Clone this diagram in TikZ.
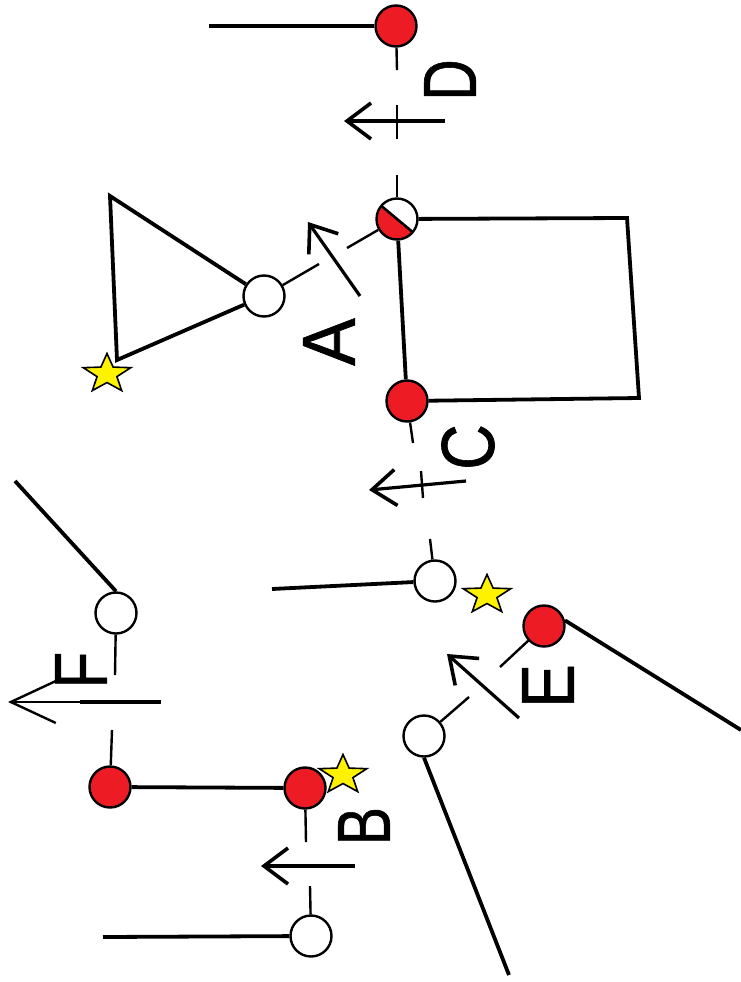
\documentclass[tikz,border=0pt]{standalone}
\usepackage{fontspec}
\setmainfont{Liberation Sans}
\newfontfamily\ltrfont[FakeBold=0.9]{Liberation Sans}
\usetikzlibrary{shapes.geometric,arrows.meta}
\definecolor{pinred}{RGB}{237,28,36}
\definecolor{staryellow}{RGB}{255,242,0}
\newcommand{\ltr}[2]{\scalebox{#1}[1]{\fontsize{75}{75}\ltrfont #2}}
\tikzset{
  pinw/.style={circle,draw=black,line width=2.4pt,fill=white,minimum size=41pt,inner sep=0pt},
  pinr/.style={pinw,fill=pinred},
  starm/.style={star,star points=5,star point ratio=2.4,draw=black,line width=1.6pt,fill=staryellow,minimum size=50pt,inner sep=0pt,transform shape},
  thick line/.style={line width=3.8pt},
  thin line/.style={line width=2.4pt},
  arrowline/.style={line width=3.2pt,-{Straight Barb[length=24pt,width=36pt,line width=3.6pt]}},
  letter/.style={rotate=90,inner sep=0pt,anchor=center}
}
\begin{document}
\begin{tikzpicture}[x=1pt,y=-1pt]
\useasboundingbox (0,0) rectangle (741,982);
% pins
\node[pinr] (d) at (396,26) {};
\node[pinw,path picture={
  \fill[pinred] (-30,-25) -- (30,25) -- (5,55) -- (-55,5) -- cycle;
  \draw[line width=2.6pt] (-30,-25) -- (30,25);
}] (h) at (397,219) {};
\node[pinr] (c) at (407,401) {};
\node[pinw] (t) at (264,296) {};
\node[pinw] (m) at (435,581) {};
\node[pinr] (e) at (544,626) {};
\node[pinw] (w) at (424,736) {};
\node[pinw] (f) at (116,613) {};
\node[pinr] (r) at (110,787) {};
\node[pinr] (b) at (305,788) {};
\node[pinw] (g) at (311,936) {};
% stars
\begin{scope}[shift={(107,374)},yscale=0.82]\node[starm] (s1) at (0,0) {};\end{scope}
\begin{scope}[shift={(487,595)},yscale=0.82]\node[starm] (s2) at (0,0) {};\end{scope}
\begin{scope}[shift={(343,775)},yscale=0.82]\node[starm] (s3) at (0,0) {};\end{scope}
% free ends
\coordinate (d1) at (209,26);
\coordinate (d2) at (397,70);
\coordinate (d3) at (397,175);
\coordinate (q1) at (627,218);
\coordinate (q2) at (639,398);
\coordinate (t1) at (110,196);
\coordinate (t2) at (117,360);
\coordinate (h1) at (347,248);
\coordinate (t3) at (319,264);
\coordinate (c1) at (413,443);
\coordinate (m1) at (430,539);
\coordinate (m2) at (272,589);
\coordinate (e1) at (741,730);
\coordinate (e2) at (500,667);
\coordinate (w1) at (469,697);
\coordinate (w2) at (509,975);
\coordinate (f1) at (15,481);
\coordinate (f2) at (115,675);
\coordinate (r1) at (112,730);
\coordinate (b1) at (306,842);
\coordinate (g1) at (310,886);
\coordinate (g2) at (103,937);
% connectors
\draw[thick line] (d) -- (d1);
\draw[thin line] (d) -- (d2);
\draw[thin line] (h) -- (d3);
\draw[thick line,line join=miter] (h) -- (q1) -- (q2) -- (c);
\draw[thick line] (h) -- (c);
\draw[thick line] (t) -- (t1) -- (t2) -- (t);
\draw[thin line] (h) -- (h1);
\draw[thin line] (t) -- (t3);
\draw[thin line] (c) -- (c1);
\draw[thin line] (m) -- (m1);
\draw[thick line] (m) -- (m2);
\draw[thick line] (e.15) -- (e1);
\draw[thin line] (e) -- (e2);
\draw[thin line] (w) -- (w1);
\draw[thick line] (w.south) -- (w2);
\draw[thick line] (f.north) -- (f1);
\draw[thin line] (f) -- (f2);
\draw[thin line] (r) -- (r1);
\draw[thick line] (r) -- (b);
\draw[thin line] (b) -- (b1);
\draw[thin line] (g) -- (g1);
\draw[thick line] (g) -- (g2);
% movement arrows
\coordinate (a1s) at (445,121); \coordinate (a1e) at (344,121);
\draw[arrowline] (a1s) -- (a1e);
\coordinate (tk1a) at (397,105); \coordinate (tk1b) at (397,139);
\draw[thin line] (tk1a) -- (tk1b);
\coordinate (a2s) at (360,296); \coordinate (a2e) at (308,222);
\draw[arrowline] (a2s) -- (a2e);
\coordinate (a3s) at (466,481); \coordinate (a3e) at (369,490);
\draw[arrowline] (a3s) -- (a3e);
\coordinate (tk3a) at (421,471); \coordinate (tk3b) at (423,498);
\draw[thin line] (tk3a) -- (tk3b);
\coordinate (a4s) at (519,718); \coordinate (a4e) at (447,654);
\draw[arrowline] (a4s) -- (a4e);
\coordinate (a5s) at (161,702); \coordinate (a5m) at (80,702); \coordinate (a5e) at (8,702);
\draw[line width=3.8pt] (a5s) -- (a5m);
\draw[line width=2.2pt,-{Straight Barb[length=45pt,width=42pt,line width=2.4pt]}] (a5m) -- (a5e);
\coordinate (a6s) at (355,866); \coordinate (a6e) at (261,866);
\draw[arrowline] (a6s) -- (a6e);
% letters
\node[letter] (la) at (329,342) {\ltr{0.95}{A}};
\node[letter] (lb) at (364,826) {\ltr{0.76}{B}};
\node[letter] (lc) at (468,447) {\ltr{0.84}{C}};
\node[letter] (ld) at (450,80) {\ltr{0.76}{D}};
\node[letter] (le) at (548,686) {\ltr{0.88}{E}};
\node[letter] (lf) at (81,670) {\ltr{0.8}{F}};
\end{tikzpicture}
\end{document}
